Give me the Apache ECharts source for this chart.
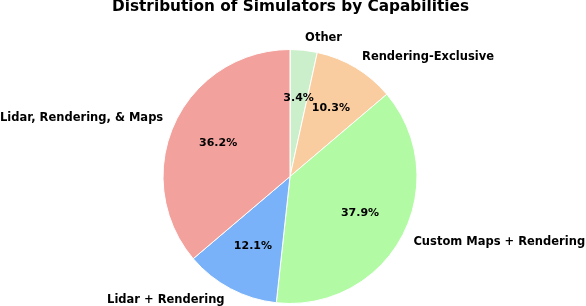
<!DOCTYPE html>
<html><head><meta charset="utf-8">
<script src="https://cdn.jsdelivr.net/npm/echarts@6/dist/echarts.min.js"></script>
<style>html,body{margin:0;padding:0;background:#fff}#c{width:586px;height:306px}</style>
</head><body><div id="c"></div>
<script>
const categories = ['Other', 'Rendering-Exclusive', 'Custom Maps + Rendering', 'Lidar + Rendering', 'Lidar, Rendering, & Maps'];
const counts = [2, 6, 22, 7, 21];
const colors = ['#ccefcb', '#f9cda0', '#b2fba4', '#79b2f8', '#f2a19d'];
const titleText = 'Distribution of Simulators by Capabilities';

const R = 127;
const CX = 290, CY = 176.5;
const font = 'DejaVu Sans';
const total = counts.reduce((a, b) => a + b, 0);
const data = categories.map((n, i) => ({ name: n, value: counts[i], itemStyle: { color: colors[i] } }));

const chart = echarts.init(document.getElementById('c'), null, { renderer: 'canvas' });
chart.setOption({
  animation: false,
  backgroundColor: '#fff',
  title: { text: titleText, left: 112, top: 0, padding: 0,
    textStyle: { fontFamily: font, fontWeight: 'bold', fontSize: 15.3, color: '#000' } },
  series: [
    {
      type: 'pie', center: [CX, CY], radius: [0, R], startAngle: 90, clockwise: true,
      avoidLabelOverlap: false, silent: true,
      itemStyle: { borderColor: '#fff', borderWidth: 1 },
      label: { show: true, position: 'outside', formatter: '{b}', distanceToLabelLine: 0, overflow: 'none',
        fontFamily: font, fontWeight: 'bold', fontSize: 11.5, color: '#000' },
      labelLine: { show: false, length: R * 0.1, length2: 0 },
      data: data
    },
    {
      type: 'pie', center: [CX, CY], radius: [R * 0.2, R], startAngle: 90, clockwise: true,
      avoidLabelOverlap: false, silent: true, minShowLabelAngle: 0,
      itemStyle: { color: 'rgba(0,0,0,0)', borderWidth: 0 },
      label: { show: true, position: 'inside', overflow: 'none',
        formatter: p => (p.value / total * 100).toFixed(1) + '%',
        fontFamily: font, fontWeight: 'bold', fontSize: 11, color: '#000' },
      labelLayout: { hideOverlap: false },
      labelLine: { show: false },
      data: categories.map((n, i) => ({ name: n, value: counts[i] }))
    }
  ]
});
</script></body></html>
